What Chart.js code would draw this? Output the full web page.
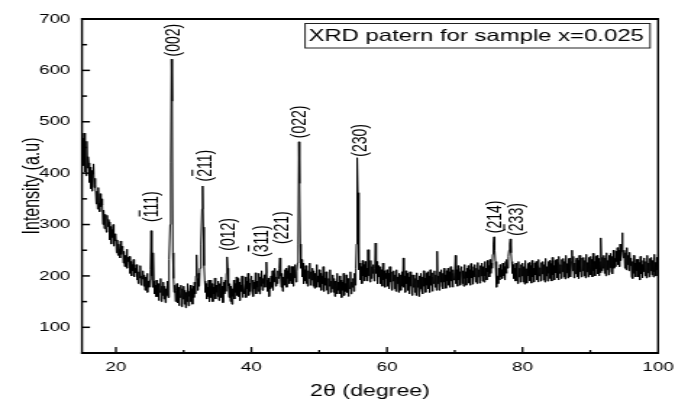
<!DOCTYPE html>
<html><head><meta charset="utf-8">
<script src="https://cdn.jsdelivr.net/npm/chart.js@4/dist/chart.umd.min.js"></script>
<style>
html,body{margin:0;padding:0;background:#fff;overflow:hidden;}
#wrap{position:absolute;left:0;top:0;width:466px;height:402px;transform:scaleX(1.4485);transform-origin:0 0;}
</style></head><body>
<div id="wrap"><canvas id="c"></canvas></div>
<script>
// ---- data ----
const startAngle = 15;      // first 2θ sample (degree)
const stepAngle = 0.1;      // sampling step (degree)
const intensity = [
440,468,415,478,402,450,395,462,410,432, 420,382,412,370,405,365,398,418,372,390,
378,340,365,330,372,342,325,360,335,350, 338,300,328,292,320,305,285,318,296,310,
305,270,296,262,290,275,300,258,282,268, 278,245,270,240,262,252,235,268,242,255,
258,225,248,218,240,230,252,215,236,228, 238,205,228,200,222,210,232,198,215,206,
222,192,215,185,208,196,220,182,200,194, 210,180,202,172,198,185,205,168,190,178,
192,212,288,200,178,245,190,165,182,160, 192,160,185,152,178,168,195,150,180,162,
188,155,180,148,175,162,190,158,205,232, 300,420,622,540,245,195,168,182,150,172,
185,148,178,142,170,158,182,140,175,155, 180,145,172,138,168,150,185,142,170,160,
182,150,175,145,180,158,188,165,200,241, 195,172,205,180,215,230,262,330,375,295,
220,190,168,185,155,178,160,192,150,180, 192,158,185,150,178,165,196,155,182,168,
160,190,152,185,170,198,158,180,148,188, 165,192,170,205,237,215,180,158,185,150,
180,145,175,160,192,155,185,168,198,162, 195,160,188,152,182,170,200,158,185,172,
165,198,158,190,175,205,162,186,170,195, 200,168,192,160,188,175,206,165,190,178,
170,205,165,198,180,210,172,195,185,202, 178,205,227,192,170,196,160,188,175,200,
178,210,172,205,188,215,180,198,185,210, 195,215,235,200,178,205,170,198,185,212,
182,215,178,210,195,220,185,205,190,218, 185,218,180,212,196,222,188,208,225,262,
461,380,262,215,232,198,225,185,212,190, 220,185,215,180,210,195,225,182,208,192,
215,180,210,176,205,190,222,178,200,188, 212,178,205,172,200,185,218,170,196,182,
208,172,200,165,195,180,212,168,190,175, 202,168,195,160,190,176,205,165,188,172,
200,165,192,158,188,172,205,162,185,170, 202,168,195,160,190,175,208,165,188,178,
195,170,205,182,215,262,430,362,252,212, 225,192,218,185,230,200,222,190,228,198,
215,190,251,200,225,188,230,195,218,205, 222,190,215,264,205,228,185,220,198,212,
218,185,212,180,225,192,210,178,205,195, 212,180,205,175,218,188,202,172,208,190,
210,175,202,170,212,185,198,168,205,182, 202,172,208,180,235,178,200,168,210,185,
205,172,198,165,208,180,195,162,202,178, 202,168,195,162,206,178,192,160,200,175,
205,172,198,165,210,180,196,168,205,182, 208,175,200,168,212,182,198,170,206,185,
210,178,202,172,248,185,200,172,208,188, 212,180,205,175,215,188,202,176,210,190,
215,182,208,178,218,190,205,178,212,192, 206,240,185,212,180,220,192,208,182,215,
218,185,210,180,222,195,208,182,215,196, 220,186,212,182,224,196,210,184,218,198,
222,188,215,185,226,198,212,186,220,200, 225,190,218,188,228,200,215,192,230,208,
220,198,232,205,225,215,242,262,276,250, 228,205,178,200,185,215,192,222,198,212,
195,225,200,218,192,228,205,232,215,238, 250,262,272,245,228,205,222,195,215,190,
225,190,218,185,228,198,215,188,222,200, 225,188,218,184,230,196,214,186,224,200,
226,190,220,186,230,198,215,188,225,202, 228,192,220,188,232,200,216,190,226,204,
228,192,222,188,234,200,218,190,228,205, 230,195,224,190,236,202,220,192,230,206,
232,196,226,192,238,205,222,195,232,208, 234,198,228,194,240,206,224,196,234,210,
235,198,228,250,210,238,196,225,204,232, 235,198,230,195,240,208,225,198,235,210,
236,200,230,196,242,208,226,198,236,212, 238,202,232,198,244,210,228,200,238,214,
240,204,234,200,228,206,274,210,236,215, 240,205,235,200,245,212,230,202,240,216,
244,208,238,204,250,215,234,218,248,228, 255,222,250,218,262,230,248,284,252,235,
250,215,245,212,255,222,240,210,246,220, 235,198,228,195,240,205,225,198,232,210,
232,198,226,192,238,204,222,196,230,208, 235,200,228,196,240,206,225,198,234,210,
236,202,230,198,242,208,226,200,236,212, 222
];
const twoTheta = intensity.map((_, i) => +(startAngle + i * stepAngle).toFixed(1));

// peak annotations (Miller indices; \u0305 = overbar on preceding digit)
const peakNames      = ['(1\u030511)', '(002)', '(2\u030511)', '(012)', '(3\u030511)', '(221)', '(022)', '(230)', '(214)', '(2\u030533)'];
const peakLabelAngle = [25.2, 28.3, 33.0, 36.4, 41.3, 44.3, 47.0, 56.0, 75.8, 79.0];
const peakLabelBase  = [305, 627, 384, 249, 237, 262, 468, 432, 283, 278];

const xTickLabels = [20, 40, 60, 80, 100];
const yTickLabels = [100, 200, 300, 400, 500, 600, 700];
const chartTitle = 'XRD patern for sample x=0.025';
const xTitle = '2\u03B8 (degree)';
const yTitle = 'Intensity (a.u)';

// ---- drawing ----
const FONT = '"Liberation Sans", Arial, Helvetica, sans-serif';

const decorPlugin = {
  id: 'decor',
  afterDatasetsDraw(chart) {
    const ctx = chart.ctx;
    const a = chart.chartArea;
    const xs = chart.scales.x, ys = chart.scales.y;
    ctx.save();
    ctx.fillStyle = '#000';
    // frame
    ctx.fillRect(a.left - 0.7, a.top - 1, 1.4, a.bottom - a.top + 2);
    ctx.fillRect(a.right - 0.7, a.top - 1, 1.4, a.bottom - a.top + 2);
    ctx.fillRect(a.left - 0.7, a.top - 1, a.right - a.left + 1.4, 2);
    ctx.fillRect(a.left - 0.7, a.bottom - 1, a.right - a.left + 1.4, 2);
    // inward ticks, x
    xs.ticks.forEach(t => {
      const v = t.value;
      if (v <= xs.min || v >= xs.max) return;
      const px = xs.getPixelForValue(v);
      const len = (v % 20 === 0) ? 6 : 3;
      ctx.fillRect(px - 0.65, a.bottom - len, 1.3, len);
    });
    // inward ticks, y
    ys.ticks.forEach(t => {
      const v = t.value;
      if (v <= ys.min || v >= ys.max) return;
      const py = ys.getPixelForValue(v);
      const len = (v % 100 === 0) ? 5.5 : 3.5;
      ctx.fillRect(a.left, py - 0.75, len, 1.5);
    });
    // peak labels
    ctx.font = '14px ' + FONT;
    ctx.textAlign = 'left';
    ctx.textBaseline = 'alphabetic';
    peakNames.forEach((name, i) => {
      let plain = '';
      const bars = [];
      for (const ch of name) {
        if (ch === '\u0305') { bars.push(plain.length - 1); continue; }
        plain += ch;
      }
      const px = xs.getPixelForValue(peakLabelAngle[i]);
      const py = ys.getPixelForValue(peakLabelBase[i]);
      ctx.save();
      ctx.translate(px, py);
      ctx.rotate(-Math.PI / 2);
      ctx.fillText(plain, 0, 5);
      bars.forEach(idx => {
        const x0 = ctx.measureText(plain.slice(0, idx)).width;
        const w = ctx.measureText(plain[idx]).width;
        ctx.fillRect(x0 + 0.8, -8.6, w - 1.6, 1.1);
      });
      ctx.restore();
    });
    // title box
    ctx.fillStyle = '#fff';
    ctx.fillRect(210.6, 23, 238.2, 25);
    ctx.lineWidth = 1;
    ctx.strokeStyle = '#222';
    ctx.strokeRect(210.6, 23.5, 238.2, 24.5);
    ctx.fillStyle = '#000';
    ctx.font = '16.5px ' + FONT;
    ctx.textBaseline = 'alphabetic';
    ctx.fillText(chartTitle, 212.9, 40.5);
    ctx.restore();
  }
};

new Chart(document.getElementById('c'), {
  type: 'line',
  data: {
    datasets: [{
      data: twoTheta.map((x, i) => ({ x, y: intensity[i] })),
      borderColor: '#000',
      borderWidth: 1,
      pointRadius: 0,
      tension: 0,
      fill: false
    }]
  },
  options: {
    responsive: true,
    maintainAspectRatio: false,
    devicePixelRatio: 1,
    animation: false,
    events: [],
    layout: { padding: { left: 0, right: 11.7, top: 19, bottom: 0 } },
    plugins: { legend: { display: false }, tooltip: { enabled: false }, title: { display: false } },
    scales: {
      x: {
        type: 'linear',
        min: 15, max: 100,
        grid: { display: true, drawOnChartArea: false, drawTicks: true, tickLength: 7, tickColor: 'rgba(0,0,0,0)' },
        border: { display: false },
        ticks: {
          stepSize: 10, autoSkip: false, maxRotation: 0, padding: 0,
          color: '#000', font: { family: FONT, size: 13 },
          callback: v => xTickLabels.includes(v) ? String(v) : ''
        },
        title: { display: true, text: xTitle, color: '#000', font: { family: FONT, size: 16 }, padding: { top: 0, bottom: 1 } },
        afterFit: s => { s.height = 49; }
      },
      y: {
        type: 'linear',
        min: 50, max: 700,
        grid: { display: false, drawTicks: false },
        border: { display: false },
        ticks: {
          stepSize: 50, autoSkip: false, padding: 8,
          color: '#000', font: { family: FONT, size: 13 },
          callback: v => yTickLabels.includes(v) ? String(v) : ''
        },
        title: { display: true, text: yTitle, color: '#000', font: { family: FONT, size: 16 }, padding: { top: 13, bottom: 0 } },
        afterFit: s => { s.width = 56.6; }
      }
    }
  },
  plugins: [decorPlugin]
});
</script>
</body></html>
